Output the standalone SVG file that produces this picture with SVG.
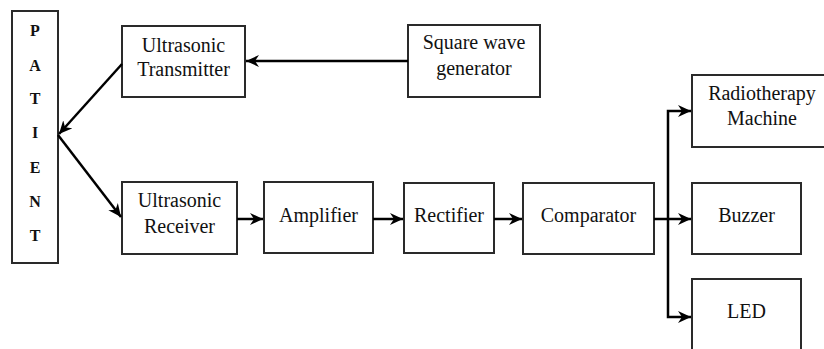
<svg xmlns="http://www.w3.org/2000/svg" width="824" height="349" viewBox="0 0 824 349">
<style>
.box{fill:#fff;stroke:#2a2a2a;stroke-width:2}
.t{font-size:20px;fill:#111;text-anchor:middle}
.p{font-size:16px;font-weight:bold;fill:#111;text-anchor:middle}
.c{fill:none;stroke:#000;stroke-width:2.5}
</style>
<defs>
<marker id="ah" markerUnits="userSpaceOnUse" markerWidth="14" markerHeight="14" refX="13" refY="7" orient="auto" viewBox="0 0 14 14">
<path d="M0,1 L13,7 L0,13 L4,7 z" fill="#000"/>
</marker>
</defs>
<rect width="824" height="349" fill="#fff"/>
<g font-family="Liberation Serif, Tinos, DejaVu Serif, Noto Serif, serif">
<g id="patient">
<rect class="box" x="12" y="11" width="46" height="252"/>
<text class="p" x="35" y="36">P</text>
<text class="p" x="35" y="71">A</text>
<text class="p" x="35" y="104">T</text>
<text class="p" x="35" y="138">I</text>
<text class="p" x="35" y="173">E</text>
<text class="p" x="35" y="207">N</text>
<text class="p" x="35" y="241">T</text>
</g>
<g id="transmitter">
<rect class="box" x="122" y="26" width="123" height="71"/>
<text class="t" x="183.5" y="52">Ultrasonic</text>
<text class="t" x="183.5" y="76">Transmitter</text>
</g>
<g id="squarewave">
<rect class="box" x="408" y="25" width="132" height="72"/>
<text class="t" x="474" y="49">Square wave</text>
<text class="t" x="474" y="75">generator</text>
</g>
<g id="receiver">
<rect class="box" x="122" y="182" width="115" height="72"/>
<text class="t" x="179.5" y="207">Ultrasonic</text>
<text class="t" x="179.5" y="233">Receiver</text>
</g>
<g id="amplifier">
<rect class="box" x="264" y="182" width="109" height="71"/>
<text class="t" x="318.5" y="222">Amplifier</text>
</g>
<g id="rectifier">
<rect class="box" x="404" y="183" width="90" height="70"/>
<text class="t" x="449" y="222">Rectifier</text>
</g>
<g id="comparator">
<rect class="box" x="523" y="183" width="131" height="71"/>
<text class="t" x="588.5" y="222">Comparator</text>
</g>
<g id="radiotherapy">
<rect class="box" x="692" y="75" width="140" height="72"/>
<text class="t" x="762" y="100">Radiotherapy</text>
<text class="t" x="762" y="125">Machine</text>
</g>
<g id="buzzer">
<rect class="box" x="692" y="183" width="109" height="71"/>
<text class="t" x="746.5" y="222">Buzzer</text>
</g>
<g id="led">
<rect class="box" x="692" y="279" width="109" height="80"/>
<text class="t" x="746.5" y="318">LED</text>
</g>
</g>
<g id="connectors">
<line class="c" x1="408" y1="61" x2="246" y2="61" marker-end="url(#ah)"/>
<line class="c" x1="122" y1="64" x2="59" y2="134" marker-end="url(#ah)"/>
<line class="c" x1="58" y1="135" x2="121" y2="217" marker-end="url(#ah)"/>
<line class="c" x1="237" y1="219" x2="263" y2="219" marker-end="url(#ah)"/>
<line class="c" x1="373" y1="219" x2="403" y2="219" marker-end="url(#ah)"/>
<line class="c" x1="494" y1="219" x2="522" y2="219" marker-end="url(#ah)"/>
<line class="c" x1="654" y1="219" x2="691" y2="219" marker-end="url(#ah)"/>
<polyline class="c" points="668,219 668,111 691,111" marker-end="url(#ah)"/>
<polyline class="c" points="668,219 668,317 691,317" marker-end="url(#ah)"/>
</g>
</svg>
